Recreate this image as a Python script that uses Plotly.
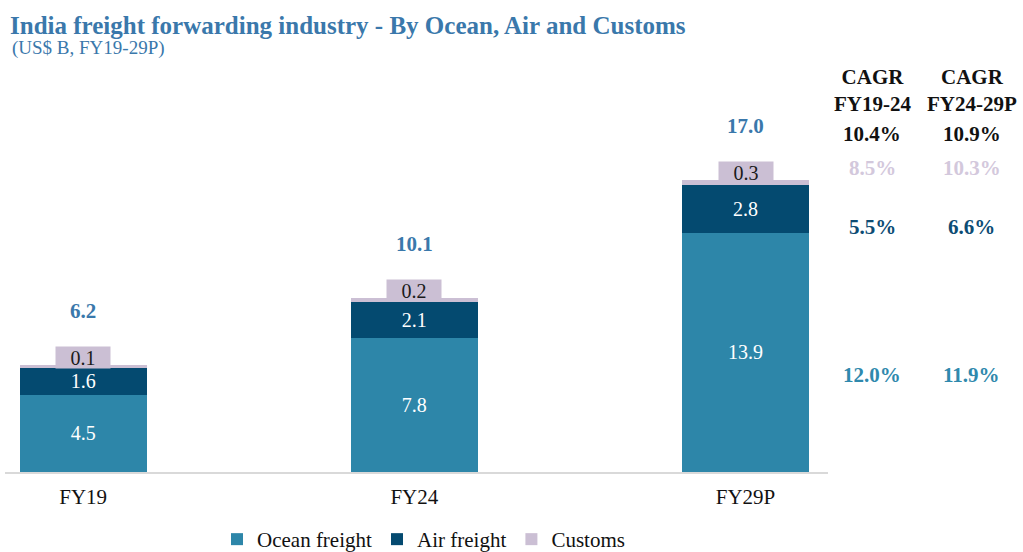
import plotly.graph_objects as go

# Market size by mode, US$ B
years = ["FY19", "FY24", "FY29P"]
ocean = [4.5, 7.8, 13.9]
air = [1.6, 2.1, 2.8]
customs = [0.1, 0.2, 0.3]

# CAGR table (rows: total, customs, air, ocean)
cagr_headers = ["CAGR<br>FY19-24", "CAGR<br>FY24-29P"]
cagr_total = ["10.4%", "10.9%"]
cagr_customs = ["8.5%", "10.3%"]
cagr_air = ["5.5%", "6.6%"]
cagr_ocean = ["12.0%", "11.9%"]

totals = [o + a + c for o, a, c in zip(ocean, air, customs)]

FONT = "Times New Roman, Liberation Serif, serif"
C_OCEAN = "#2d86a9"
C_AIR = "#044a70"
C_CUSTOMS = "#cbbfd4"
C_TITLE = "#3a78ab"

BAR_W = 0.384
PLOT_TOP, PLOT_BOTTOM, PLOT_LEFT, PLOT_RIGHT = 72, 472, 5, 828
PX_PER_UNIT = 17.2


def py(pix):
    """Pixel row -> paper y."""
    return (PLOT_BOTTOM - pix) / (PLOT_BOTTOM - PLOT_TOP)


def px(pix):
    """Pixel column -> paper x."""
    return (pix - PLOT_LEFT) / (PLOT_RIGHT - PLOT_LEFT)


fig = go.Figure()
fig.add_trace(go.Bar(
    name="Ocean freight", x=years, y=ocean, width=BAR_W,
    marker=dict(color=C_OCEAN, line=dict(width=0)),
    text=[f"{v:.1f}" for v in ocean], textposition="inside",
    insidetextanchor="middle", constraintext="none",
    textfont=dict(family=FONT, size=20, color="white"),
))
fig.add_trace(go.Bar(
    name="Air freight", x=years, y=air, width=BAR_W,
    marker=dict(color=C_AIR, line=dict(width=0)),
    text=[f"{v:.1f}" for v in air], textposition="inside",
    insidetextanchor="middle", constraintext="none",
    textfont=dict(family=FONT, size=20, color="white"),
))
fig.add_trace(go.Bar(
    name="Customs", x=years, y=customs, width=BAR_W,
    marker=dict(color=C_CUSTOMS, line=dict(width=0)),
    hoverinfo="x+y",
))

annotations = []
# Customs value tags and bar totals
for yr, c, t in zip(years, customs, totals):
    annotations.append(dict(
        x=yr, y=t, xref="x", yref="y", text=f"{c:.1f}", showarrow=False,
        yanchor="bottom", yshift=-4, bgcolor=C_CUSTOMS, width=54, height=21,
        borderpad=0, font=dict(family=FONT, size=20, color="#1a1a1a"),
    ))
    annotations.append(dict(
        x=yr, y=t, xref="x", yref="y", text=f"<b>{t:.1f}</b>", showarrow=False,
        yanchor="middle", yshift=54,
        font=dict(family=FONT, size=21, color=C_TITLE),
    ))

# CAGR columns on the right
col_x = [px(872), px(972)]
rows = [
    (cagr_total, py(134), "#111111"),
    (cagr_customs, py(168), "#d3c8dc"),
    (cagr_air, py(227), "#0d4c74"),
    (cagr_ocean, py(375), "#2f89ad"),
]
for i, cx in enumerate(col_x):
    annotations.append(dict(
        x=cx, y=py(90), xref="paper", yref="paper", text=f"<b>{cagr_headers[i]}</b>",
        showarrow=False, xanchor="center", yanchor="middle",
        font=dict(family=FONT, size=21, color="#111111"),
    ))
    for vals, ry, col in rows:
        annotations.append(dict(
            x=cx, y=ry, xref="paper", yref="paper", text=f"<b>{vals[i]}</b>",
            showarrow=False, xanchor="center", yanchor="middle",
            font=dict(family=FONT, size=21, color=col),
        ))

# Subtitle
annotations.append(dict(
    x=px(10), y=py(48), xref="paper", yref="paper",
    text="(US$ B, FY19-29P)", showarrow=False, xanchor="left", yanchor="middle",
    font=dict(family=FONT, size=19, color=C_TITLE),
))

fig.update_layout(
    width=1023, height=552,
    margin=dict(l=PLOT_LEFT, r=1023 - PLOT_RIGHT, t=PLOT_TOP, b=552 - PLOT_BOTTOM,
                autoexpand=False),
    barmode="stack",
    plot_bgcolor="white", paper_bgcolor="white",
    title=dict(
        text="<b>India freight forwarding industry - By Ocean, Air and Customs</b>",
        x=10 / 1023, xanchor="left", xref="container",
        y=1 - 25 / 552, yanchor="middle", yref="container",
        font=dict(family=FONT, size=25, color=C_TITLE),
    ),
    xaxis=dict(
        type="category", range=[-0.236, 2.249],
        showline=True, linecolor="#d9d9d9", linewidth=2,
        showgrid=False, ticks="", ticklabelstandoff=5,
        tickfont=dict(family=FONT, size=21, color="#111111"),
    ),
    yaxis=dict(range=[0, (PLOT_BOTTOM - PLOT_TOP) / PX_PER_UNIT], visible=False,
               showgrid=False),
    legend=dict(
        orientation="h", x=px(217), xanchor="left", y=py(519), yanchor="top",
        font=dict(family=FONT, size=21, color="#111111"),
        traceorder="normal", itemwidth=30,
    ),
    uniformtext=dict(minsize=20, mode="show"),
    annotations=annotations,
)

fig.write_html("out.html")
